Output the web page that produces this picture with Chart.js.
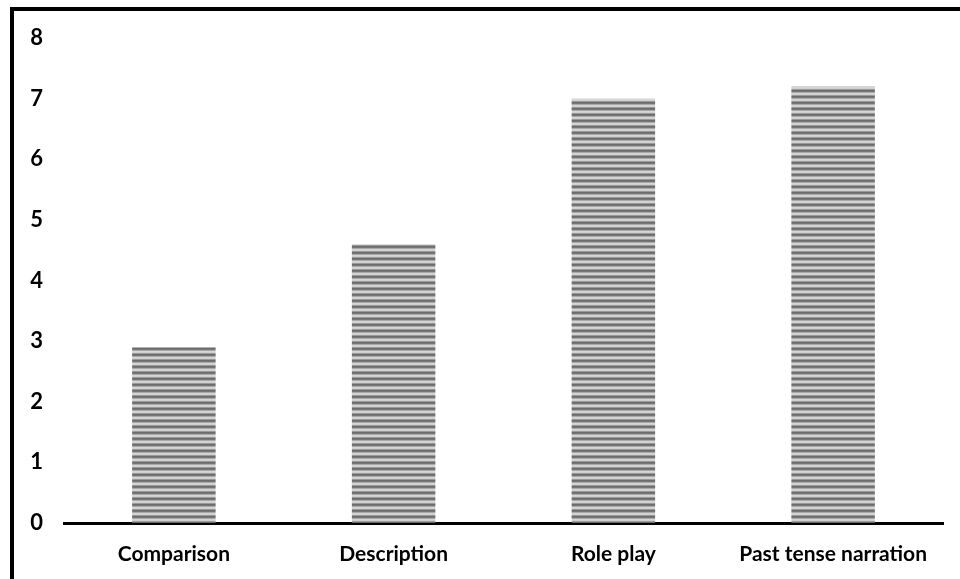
<!DOCTYPE html>
<html>
<head>
<meta charset="utf-8">
<script src="https://cdn.jsdelivr.net/npm/chart.js@4/dist/chart.umd.min.js"></script>
<style>
  html, body { margin: 0; padding: 0; background: #fff; }
  #wrap { width: 960px; height: 579px; position: relative; }
</style>
</head>
<body>
<div id="wrap"><canvas id="c" width="960" height="579"></canvas></div>
<script>
// Task types and their mean scores
const categories = ['Comparison', 'Description', 'Role play', 'Past tense narration'];
const scores = [2.9, 4.6, 7.0, 7.2];
const yTicks = [0, 1, 2, 3, 4, 5, 6, 7, 8];

// Horizontal grey stripe fill for the bars
function stripePattern() {
  const t = document.createElement('canvas');
  t.width = 8; t.height = 6;
  const g = t.getContext('2d');
  const rows = ['#6b6b6b', '#777777', '#a8a8a8', '#d6d6d6', '#d0d0d0', '#9a9a9a'];
  rows.forEach((c, i) => { g.fillStyle = c; g.fillRect(0, i, 8, 1); });
  return g.createPattern(t, 'repeat');
}

// Frame lines along the top and left of the figure
const framePlugin = {
  id: 'frame',
  beforeDraw(chart) {
    const ctx = chart.ctx;
    ctx.save();
    ctx.fillStyle = '#000';
    ctx.fillRect(10, 7, 950, 4);
    ctx.fillRect(10, 7, 4, 572);
    ctx.restore();
  }
};

const xFont = { family: 'Lato, "Open Sans", sans-serif', weight: 'bold', size: 21 };
const yFont = { family: 'Lato, "Open Sans", sans-serif', weight: 'bold', size: 22 };

new Chart(document.getElementById('c'), {
  type: 'bar',
  data: {
    labels: categories,
    datasets: [{
      data: scores,
      backgroundColor: stripePattern(),
      borderWidth: 0,
      barPercentage: 0.38,
      categoryPercentage: 1.0
    }]
  },
  options: {
    responsive: false,
    animation: false,
    devicePixelRatio: 1,
    layout: { padding: { left: 0, right: 17, top: 38, bottom: 0 } },
    plugins: { legend: { display: false }, tooltip: { enabled: false } },
    scales: {
      x: {
        grid: { display: false, drawTicks: false },
        border: { display: true, color: '#000', width: 3 },
        ticks: { color: '#000', font: xFont, padding: 19, maxRotation: 0 },
        afterFit(s) { s.height = 56; }
      },
      y: {
        min: 0, max: 8,
        afterBuildTicks(s) { s.ticks = yTicks.map(v => ({ value: v })); },
        grid: { display: false, drawTicks: false },
        border: { display: false },
        ticks: { color: '#000', font: yFont, padding: 21 },
        afterFit(s) { s.width = 64; }
      }
    }
  },
  plugins: [framePlugin]
});
</script>
</body>
</html>
